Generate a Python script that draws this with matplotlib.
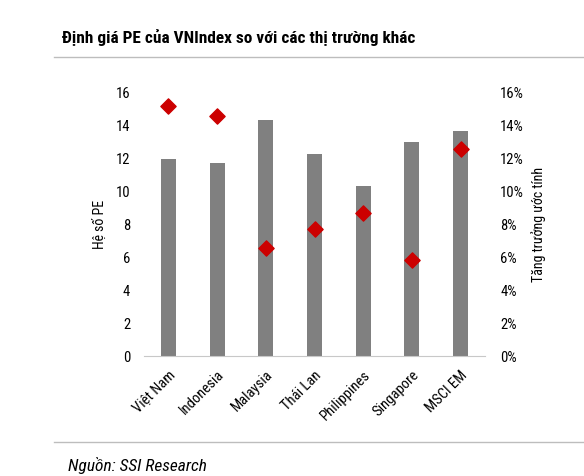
import matplotlib
matplotlib.use("Agg")
import matplotlib.pyplot as plt
from matplotlib import font_manager
from matplotlib.ticker import FuncFormatter
import numpy as np

fonts = font_manager.fontManager.ttflist
names = [f.name for f in fonts]
if "Liberation Sans Narrow" in names:
    FONT, STRETCH = "Liberation Sans Narrow", "normal"
elif "Roboto Condensed" in names:
    FONT, STRETCH = "Roboto Condensed", "normal"
elif any(f.name == "DejaVu Sans" and f.stretch == "condensed" for f in fonts):
    FONT, STRETCH = "DejaVu Sans", "condensed"
else:
    FONT, STRETCH = "Liberation Sans", "normal"
plt.rcParams["font.family"] = [FONT, "DejaVu Sans"]
plt.rcParams["font.stretch"] = STRETCH

markets = ["Việt Nam", "Indonesia", "Malaysia", "Thái Lan", "Philippines", "Singapore", "MSCI EM"]
pe = [11.9, 11.65, 14.3, 12.25, 10.3, 12.95, 13.6]
growth = [15.15, 14.5, 6.5, 7.7, 8.65, 5.8, 12.55]  # %

fig = plt.figure(figsize=(5.84, 4.77), dpi=100)
ax = fig.add_axes([0.2466, 0.2522, 0.5839, 0.5535])
x = np.arange(len(markets))
ax.bar(x, pe, width=0.31, color="#808080", zorder=2)
ax.set_xlim(-0.5, 6.5)
ax.set_ylim(0, 16)
ax.set_yticks(range(0, 17, 2))
ax.set_xticks(x)
ax.set_xticklabels(markets, rotation=45, ha="right", rotation_mode="anchor", fontsize=9.5)
for s in ["top", "right", "left"]:
    ax.spines[s].set_visible(False)
ax.spines["bottom"].set_color("#c8c8c8")
ax.tick_params(axis="both", length=0, labelsize=10.5)
ax.tick_params(axis="x", pad=8)
ax.tick_params(axis="y", pad=10)
ax.set_ylabel("Hệ số PE", fontsize=10, labelpad=6)

ax2 = ax.twinx()
ax2.scatter(x, growth, marker="D", s=60, color="#cc0000", zorder=3)
ax2.set_ylim(0, 16)
ax2.set_yticks(range(0, 17, 2))
ax2.yaxis.set_major_formatter(FuncFormatter(lambda v, p: f"{v:.0f}%"))
for s in ["top", "right", "left", "bottom"]:
    ax2.spines[s].set_visible(False)
ax2.tick_params(axis="y", length=0, labelsize=10.5, pad=11)
ax2.set_ylabel("Tăng trưởng ước tính", fontsize=10, labelpad=5)

fig.text(62 / 584, 1 - 37 / 477, "Định giá PE của VNIndex so với các thị trường khác",
         fontsize=12.4, fontweight="bold", va="center", ha="left")
fig.add_artist(plt.Line2D([54 / 584, 1], [1 - 58 / 477] * 2, color="#bdbdbd", lw=1))
fig.add_artist(plt.Line2D([54 / 584, 1], [1 - 443 / 477] * 2, color="#bdbdbd", lw=1))
fig.text(68 / 584, 1 - 466 / 477, "Nguồn: SSI Research", fontsize=12.5, style="italic",
         va="center", ha="left")

fig.savefig("out.png", dpi=100)
